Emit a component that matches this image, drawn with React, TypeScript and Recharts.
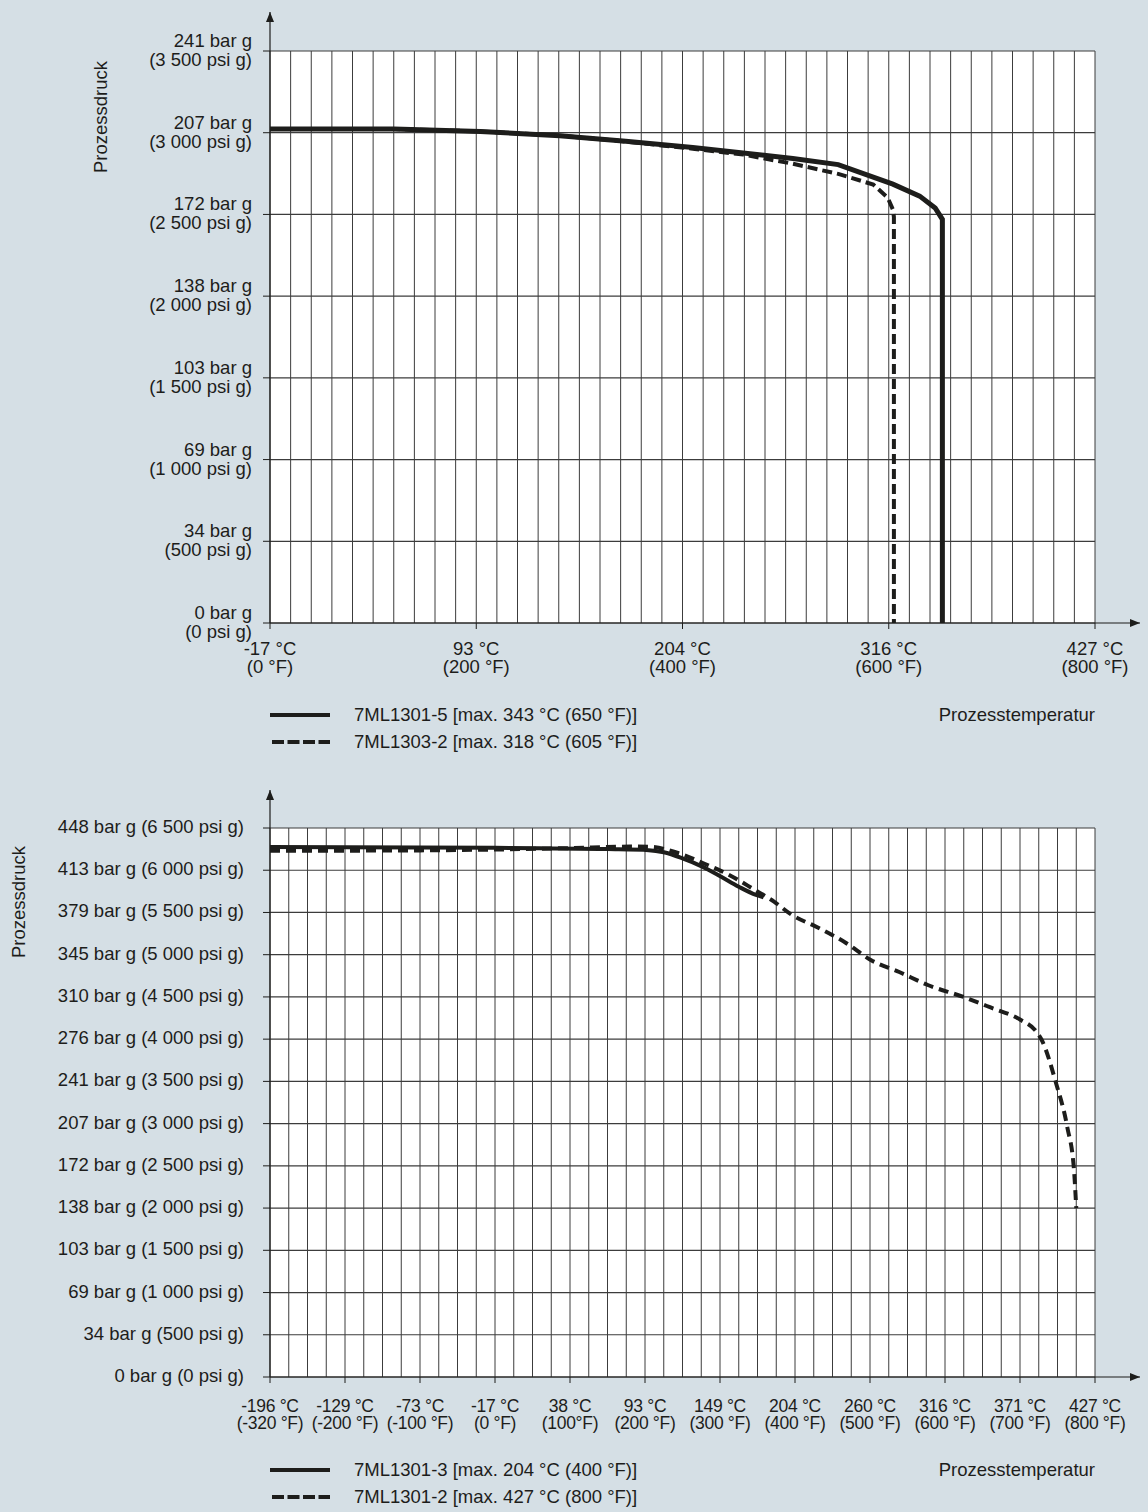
import { LineChart, Line, XAxis, YAxis, ReferenceArea, ReferenceLine, ReferenceDot, Label } from 'recharts';

const INK = '#1d1d1b';
const GRID = '#3c3c3c';
const BG = '#d5dfe5';
const FONT = '"Liberation Sans", Arial, sans-serif';

// upper chart: temperature in °F, pressure in psi g
const upperTempTicks = [0, 200, 400, 600, 800];
const upperTempC = ['-17 °C', '93 °C', '204 °C', '316 °C', '427 °C'];
const upperTempF = ['(0 °F)', '(200 °F)', '(400 °F)', '(600 °F)', '(800 °F)'];
const upperPsiTicks = [0, 500, 1000, 1500, 2000, 2500, 3000, 3500];
const upperBar = ['0 bar g', '34 bar g', '69 bar g', '103 bar g', '138 bar g', '172 bar g', '207 bar g', '241 bar g'];
const upperPsi = ['(0 psi g)', '(500 psi g)', '(1 000 psi g)', '(1 500 psi g)', '(2 000 psi g)', '(2 500 psi g)', '(3 000 psi g)', '(3 500 psi g)'];

const ml13015Temp = [0, 120, 204, 281, 345, 410, 507, 551, 604, 630, 645, 652, 652];
const ml13015Psi = [3023, 3023, 3008, 2982, 2948, 2910, 2842, 2805, 2685, 2612, 2540, 2470, 0];
const ml13032Temp = [0, 120, 204, 281, 345, 410, 459, 507, 551, 585, 599, 604, 605, 605];
const ml13032Psi = [3023, 3023, 3008, 2982, 2946, 2902, 2866, 2810, 2748, 2683, 2602, 2530, 2485, 0];

// lower chart: the first tick interval is drawn like the others, axis starts at -300 on this scale
const lowerTempTicks = [-300, -200, -100, 0, 100, 200, 300, 400, 500, 600, 700, 800];
const lowerTempC = ['-196 °C', '-129 °C', '-73 °C', '-17 °C', '38 °C', '93 °C', '149 °C', '204 °C', '260 °C', '316 °C', '371 °C', '427 °C'];
const lowerTempF = ['(-320 °F)', '(-200 °F)', '(-100 °F)', '(0 °F)', '(100°F)', '(200 °F)', '(300 °F)', '(400 °F)', '(500 °F)', '(600 °F)', '(700 °F)', '(800 °F)'];
const lowerPsiTicks = [0, 500, 1000, 1500, 2000, 2500, 3000, 3500, 4000, 4500, 5000, 5500, 6000, 6500];
const lowerLabels = [
  '0 bar g (0 psi g)', '34 bar g (500 psi g)', '69 bar g (1 000 psi g)', '103 bar g (1 500 psi g)',
  '138 bar g (2 000 psi g)', '172 bar g (2 500 psi g)', '207 bar g (3 000 psi g)', '241 bar g (3 500 psi g)',
  '276 bar g (4 000 psi g)', '310 bar g (4 500 psi g)', '345 bar g (5 000 psi g)', '379 bar g (5 500 psi g)',
  '413 bar g (6 000 psi g)', '448 bar g (6 500 psi g)',
];

const ml13013Temp = [-300, 0, 150, 205, 225, 250, 277, 301, 325, 348, 358];
const ml13013Psi = [6275, 6265, 6250, 6238, 6212, 6140, 6040, 5925, 5805, 5707, 5678];
const ml13012Temp = [-300, -100, 0, 100, 180, 205, 244, 277, 311, 344, 372, 396, 429, 468, 501, 539, 577, 625, 659, 701, 720, 729, 748, 763, 772, 775];
const ml13012Psi = [6230, 6235, 6245, 6262, 6280, 6278, 6204, 6086, 5950, 5780, 5628, 5470, 5328, 5139, 4937, 4795, 4641, 4499, 4381, 4227, 4108, 3990, 3481, 2960, 2451, 2001];

const upperSeries = [
  { name: '7ML1301-5 [max. 343 °C (650 °F)]', temp: ml13015Temp, psi: ml13015Psi, width: 5, dash: undefined },
  { name: '7ML1303-2 [max. 318 °C (605 °F)]', temp: ml13032Temp, psi: ml13032Psi, width: 4, dash: '10 5' },
];
const lowerSeries = [
  { name: '7ML1301-3 [max. 204 °C (400 °F)]', temp: ml13013Temp, psi: ml13013Psi, width: 4, dash: undefined },
  { name: '7ML1301-2 [max. 427 °C (800 °F)]', temp: ml13012Temp, psi: ml13012Psi, width: 4, dash: '10 6' },
];

const rows = (temp: number[], psi: number[]) => temp.map((t, i) => ({ t, p: psi[i] }));

const UpArrow = ({ cx, cy }: any) => (
  <polygon points={`${cx},${cy} ${cx - 4},${cy + 10} ${cx + 4},${cy + 10}`} fill={INK} />
);
const RightArrow = ({ cx, cy }: any) => (
  <polygon points={`${cx},${cy} ${cx - 10},${cy - 4} ${cx - 10},${cy + 4}`} fill={INK} />
);

const textStyle = { fontFamily: FONT, fontSize: 18.5, fill: INK };
const narrowStyle = { fontFamily: FONT, fontSize: 17.5, letterSpacing: -0.3, fill: INK };

function TwoLineXTick({ x, y, payload, top, bottom, d1, d2, narrow }: any) {
  const i = payload.index;
  return (
    <text x={x} y={y} textAnchor="middle" style={narrow ? narrowStyle : textStyle}>
      <tspan x={x} dy={d1}>{top[i]}</tspan>
      <tspan x={x} dy={d2}>{bottom[i]}</tspan>
    </text>
  );
}

function TwoLineYTick({ x, y, payload }: any) {
  const i = payload.index;
  return (
    <text x={x - 9} y={y} textAnchor="end" style={textStyle}>
      <tspan x={x - 9} dy={-4}>{upperBar[i]}</tspan>
      <tspan x={x - 9} dy={19}>{upperPsi[i]}</tspan>
    </text>
  );
}

function OneLineYTick({ x, y, payload }: any) {
  return (
    <text x={x - 17} y={y} dy={5} textAnchor="end" style={textStyle}>
      {lowerLabels[payload.index]}
    </text>
  );
}

const AxisTitle = ({ viewBox, dx, dy }: any) => {
  const cx = viewBox.x + dx;
  const cy = viewBox.y + dy;
  return (
    <text x={cx} y={cy} transform={`rotate(-90 ${cx} ${cy})`} textAnchor="middle" dominantBaseline="central" style={textStyle}>
      Prozessdruck
    </text>
  );
};

function LegendBlock({ series, top }: any) {
  return (
    <div style={{ position: 'absolute', top, left: 270, width: 825, fontFamily: FONT, fontSize: 18.5, color: INK }}>
      {series.map((s: any, i: number) => (
        <div key={s.name} style={{ position: 'absolute', top: i * 26.5, left: 0, height: 24, display: 'flex', alignItems: 'center', whiteSpace: 'nowrap' }}>
          <svg width={60} height={8} style={{ marginRight: 24 }}>
            <line x1={s.dash ? 2 : 0} y1={4} x2={60} y2={4} stroke={INK} strokeWidth={4} strokeDasharray={s.dash ? '12 3.5' : undefined} />
          </svg>
          {s.name}
        </div>
      ))}
      <div style={{ position: 'absolute', top: 0, right: 0, height: 24, display: 'flex', alignItems: 'center' }}>
        Prozesstemperatur
      </div>
    </div>
  );
}

// upper chart geometry: grid 825 px for 800 °F, 572 px for 3500 psi, axes run on to arrows
const upperXMax = 800 * 870 / 825;
const upperYMax = 3500 * 611 / 572;
const upperGridX = Array.from({ length: 41 }, (_, i) => i * 20);

const lowerXMax = -300 + 1100 * 870 / 825;
const lowerYMax = 6500 * 587 / 549;
const lowerGridX = Array.from({ length: 45 }, (_, i) => -300 + i * 25);

function UpperChart() {
  return (
    <LineChart width={1148} height={700} margin={{ top: 12, right: 8, bottom: 17, left: 0 }}>
      <XAxis
        type="number"
        dataKey="t"
        domain={[0, upperXMax]}
        ticks={upperTempTicks}
        allowDataOverflow
        height={60}
        tickSize={6}
        axisLine={{ stroke: INK, strokeWidth: 1.2 }}
        tickLine={{ stroke: INK }}
        tick={<TwoLineXTick top={upperTempC} bottom={upperTempF} d1={24} d2={18} />}
      />
      <YAxis
        type="number"
        domain={[0, upperYMax]}
        ticks={upperPsiTicks}
        allowDataOverflow
        width={270}
        tickSize={7}
        axisLine={{ stroke: INK, strokeWidth: 1.2 }}
        tickLine={{ stroke: INK }}
        tick={<TwoLineYTick />}
      >
        <Label content={<AxisTitle dx={100} dy={105} />} />
      </YAxis>
      <ReferenceArea x1={0} x2={800} y1={0} y2={3500} fill="#ffffff" fillOpacity={1} stroke="none" ifOverflow="visible" />
      {upperGridX.map((v) => (
        <ReferenceLine key={`vx${v}`} segment={[{ x: v, y: 0 }, { x: v, y: 3500 }]} stroke={GRID} strokeWidth={1} ifOverflow="visible" />
      ))}
      {upperPsiTicks.map((v) => (
        <ReferenceLine key={`hy${v}`} segment={[{ x: 0, y: v }, { x: 800, y: v }]} stroke={GRID} strokeWidth={1.2} ifOverflow="visible" />
      ))}
      {upperSeries.map((s) => (
        <Line
          key={s.name}
          data={rows(s.temp, s.psi)}
          dataKey="p"
          name={s.name}
          type="linear"
          stroke={INK}
          strokeWidth={s.width}
          strokeDasharray={s.dash}
          dot={false}
          isAnimationActive={false}
        />
      ))}
      <ReferenceDot x={0} y={upperYMax} r={0} shape={<UpArrow />} ifOverflow="visible" />
      <ReferenceDot x={upperXMax} y={0} r={0} shape={<RightArrow />} ifOverflow="visible" />
    </LineChart>
  );
}

function LowerChart() {
  return (
    <LineChart width={1148} height={700} margin={{ top: 30, right: 8, bottom: 13, left: 0 }}>
      <XAxis
        type="number"
        dataKey="t"
        domain={[-300, lowerXMax]}
        ticks={lowerTempTicks}
        allowDataOverflow
        height={70}
        tickSize={6}
        axisLine={{ stroke: INK, strokeWidth: 1.2 }}
        tickLine={{ stroke: INK }}
        tick={<TwoLineXTick top={lowerTempC} bottom={lowerTempF} d1={27} d2={17} narrow />}
      />
      <YAxis
        type="number"
        domain={[0, lowerYMax]}
        ticks={lowerPsiTicks}
        allowDataOverflow
        width={270}
        tickSize={7}
        axisLine={{ stroke: INK, strokeWidth: 1.2 }}
        tickLine={{ stroke: INK }}
        tick={<OneLineYTick />}
      >
        <Label content={<AxisTitle dx={18} dy={112} />} />
      </YAxis>
      <ReferenceArea x1={-300} x2={800} y1={0} y2={6500} fill="#ffffff" fillOpacity={1} stroke="none" ifOverflow="visible" />
      {lowerGridX.map((v) => (
        <ReferenceLine key={`vx${v}`} segment={[{ x: v, y: 0 }, { x: v, y: 6500 }]} stroke={GRID} strokeWidth={1} ifOverflow="visible" />
      ))}
      {lowerPsiTicks.map((v) => (
        <ReferenceLine key={`hy${v}`} segment={[{ x: -300, y: v }, { x: 800, y: v }]} stroke={GRID} strokeWidth={1.2} ifOverflow="visible" />
      ))}
      {lowerSeries.map((s) => (
        <Line
          key={s.name}
          data={rows(s.temp, s.psi)}
          dataKey="p"
          name={s.name}
          type="monotone"
          stroke={INK}
          strokeWidth={s.width}
          strokeDasharray={s.dash}
          dot={false}
          isAnimationActive={false}
        />
      ))}
      <ReferenceDot x={-300} y={lowerYMax} r={0} shape={<UpArrow />} ifOverflow="visible" />
      <ReferenceDot x={lowerXMax} y={0} r={0} shape={<RightArrow />} ifOverflow="visible" />
    </LineChart>
  );
}

export default function App() {
  return (
    <div style={{ position: 'absolute', left: 0, top: 0, width: 1148, height: 1512, background: BG, overflow: 'hidden' }}>
      <div style={{ position: 'absolute', left: 0, top: 0 }}>
        <UpperChart />
      </div>
      <LegendBlock series={upperSeries} top={703} />
      <div style={{ position: 'absolute', left: 0, top: 760 }}>
        <LowerChart />
      </div>
      <LegendBlock series={lowerSeries} top={1458} />
    </div>
  );
}
